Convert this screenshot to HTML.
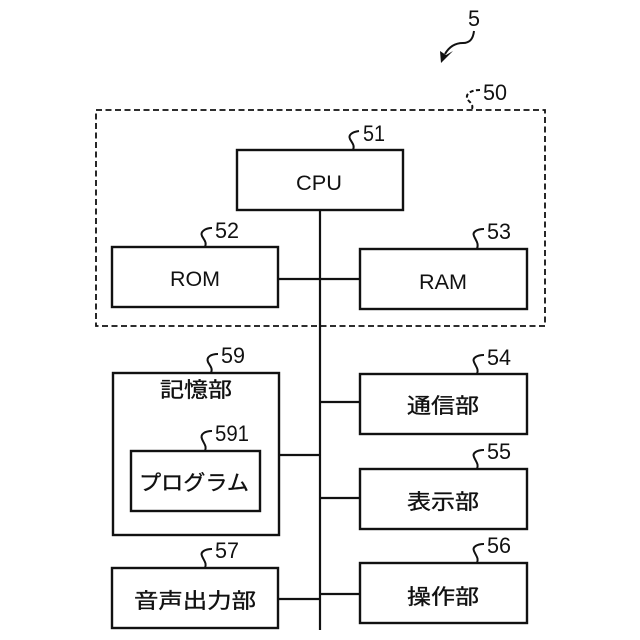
<!DOCTYPE html>
<html><head><meta charset="utf-8"><style>
html,body{margin:0;padding:0;background:#fff}
svg{display:block}
text{font-family:"Liberation Sans","Noto Sans CJK JP",sans-serif;fill:#111}
.n{font-size:22px}
.l{font-size:21px}
.c{font-size:21px;stroke:#111;stroke-width:.35px}
.box{fill:#fff;stroke:#111;stroke-width:2.4}
.w{fill:none;stroke:#111;stroke-width:2}
.ln{stroke:#111;stroke-width:2.2;fill:none}
</style></head><body>
<svg width="640" height="640" viewBox="0 0 640 640" xmlns="http://www.w3.org/2000/svg">
<rect x="96" y="110" width="449" height="216" fill="none" stroke="#111" stroke-width="1.8" stroke-dasharray="6 3.5"/>
<path class="ln" d="M320 210V630M278 279H360M279 455H320M320 402H360M320 498H360M278 599H320M320 594H360"/>
<rect class="box" x="237" y="150" width="166" height="60"/>
<rect class="box" x="112" y="247" width="166" height="60"/>
<rect class="box" x="360" y="249" width="167" height="60"/>
<rect class="box" x="113" y="373" width="166" height="162"/>
<rect class="box" x="131" y="451" width="129" height="60"/>
<rect class="box" x="112" y="568" width="166" height="60"/>
<rect class="box" x="360" y="374" width="167" height="60"/>
<rect class="box" x="360" y="469" width="167" height="60"/>
<rect class="box" x="360" y="563" width="167" height="60"/>
<path class="w" d="M474 31C473 40 469 43 463 43C455 43 449 47 445 54"/>
<path d="M441 63L440 51L446 55L453 51Z" fill="#111"/>
<path class="w" stroke-dasharray="4 2.5" d="M480 90C472 90 466 93 467 98C468 102 474 103 472 109"/>
<path class="w" d="M359 131C352 132 348 135 350 139C352 143 355 145 353 150"/>
<path class="w" d="M212 228C205 228 200 232 202 236C204 240 207 242 205 247"/>
<path class="w" d="M484 229C477 229 472 232 474 236C476 241 479 243 477 249"/>
<path class="w" d="M218 354C211 354 206 357 208 362C210 366 213 368 211 373"/>
<path class="w" d="M212 431C205 431 200 434 202 439C204 444 207 446 205 451"/>
<path class="w" d="M484 355C477 355 472 358 474 362C476 367 479 369 477 374"/>
<path class="w" d="M484 450C477 450 472 453 474 457C476 462 479 464 477 469"/>
<path class="w" d="M484 544C477 544 472 547 474 551C476 556 479 558 477 563"/>
<path class="w" d="M212 549C205 549 200 552 202 556C204 561 207 563 205 568"/>
<text class="n" x="468" y="26" textLength="12" lengthAdjust="spacingAndGlyphs">5</text>
<text class="n" x="483" y="100" textLength="24" lengthAdjust="spacingAndGlyphs">50</text>
<text class="n" x="363" y="141" textLength="22" lengthAdjust="spacingAndGlyphs">51</text>
<text class="n" x="215" y="238" textLength="24" lengthAdjust="spacingAndGlyphs">52</text>
<text class="n" x="487" y="239" textLength="24" lengthAdjust="spacingAndGlyphs">53</text>
<text class="n" x="221" y="363" textLength="24" lengthAdjust="spacingAndGlyphs">59</text>
<text class="n" x="215" y="441" textLength="34" lengthAdjust="spacingAndGlyphs">591</text>
<text class="n" x="487" y="365" textLength="24" lengthAdjust="spacingAndGlyphs">54</text>
<text class="n" x="487" y="459" textLength="24" lengthAdjust="spacingAndGlyphs">55</text>
<text class="n" x="487" y="553" textLength="24" lengthAdjust="spacingAndGlyphs">56</text>
<text class="n" x="215" y="558" textLength="24" lengthAdjust="spacingAndGlyphs">57</text>
<text class="l" x="319" y="190" text-anchor="middle" textLength="46" lengthAdjust="spacingAndGlyphs">CPU</text>
<text class="l" x="195" y="286" text-anchor="middle" textLength="50" lengthAdjust="spacingAndGlyphs">ROM</text>
<text class="l" x="443" y="289" text-anchor="middle" textLength="48" lengthAdjust="spacingAndGlyphs">RAM</text>
<text class="c" x="196" y="397" text-anchor="middle" textLength="72" lengthAdjust="spacingAndGlyphs">記憶部</text>
<text class="c" x="194" y="490" text-anchor="middle" textLength="110" lengthAdjust="spacingAndGlyphs">プログラム</text>
<text class="c" x="195" y="608" text-anchor="middle" textLength="122" lengthAdjust="spacingAndGlyphs">音声出力部</text>
<text class="c" x="443" y="413" text-anchor="middle" textLength="72" lengthAdjust="spacingAndGlyphs">通信部</text>
<text class="c" x="443" y="509" text-anchor="middle" textLength="72" lengthAdjust="spacingAndGlyphs">表示部</text>
<text class="c" x="443" y="604" text-anchor="middle" textLength="72" lengthAdjust="spacingAndGlyphs">操作部</text>
</svg>
</body></html>
